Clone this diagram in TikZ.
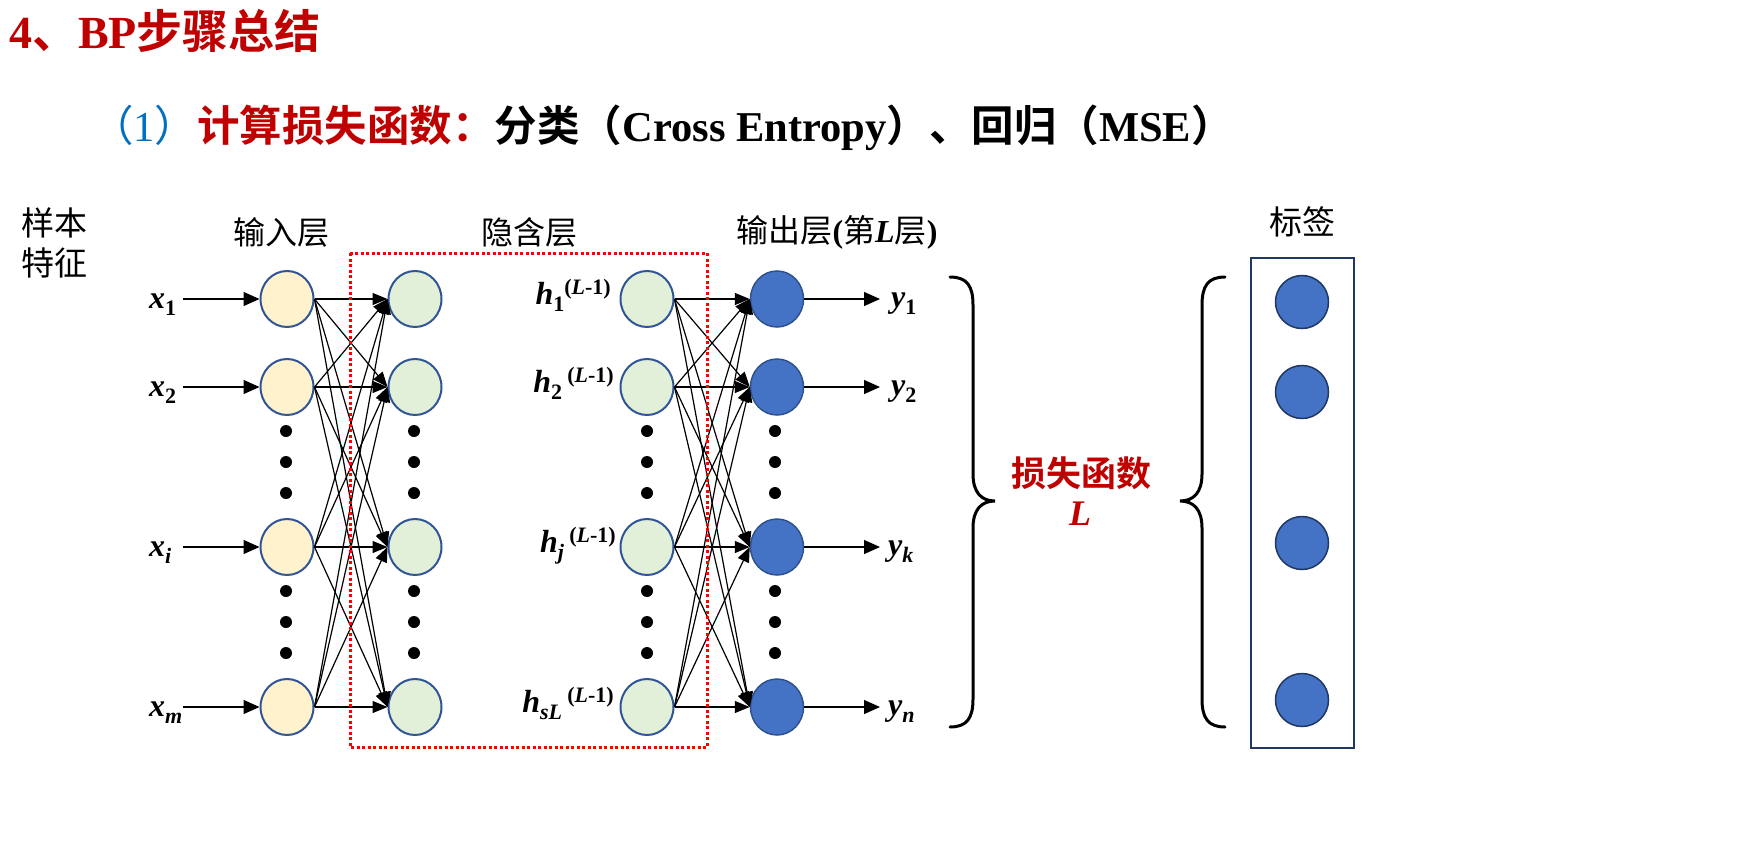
\documentclass[tikz,border=0pt]{standalone}
\usepackage{fontspec}
\setmainfont{Liberation Serif}
\newfontfamily\cjk{Noto Sans CJK SC}[BoldFont=* Bold]
\usetikzlibrary{arrows.meta,shapes.geometric}
\definecolor{titlered}{HTML}{C00000}
\definecolor{subblue}{HTML}{0070C0}
\definecolor{ringblue}{HTML}{2F5597}
\definecolor{inyellow}{HTML}{FFF2CC}
\definecolor{hidgreen}{HTML}{E2F0D9}
\definecolor{outblue}{HTML}{4472C4}
\definecolor{outring}{HTML}{2F528F}
\definecolor{boxnavy}{HTML}{1F3864}
\newcommand{\subs}[1]{\raisebox{-0.23em}{\fontsize{22}{22}\selectfont\bfseries #1}}
\newcommand{\sups}[1]{\raisebox{0.3em}{\fontsize{22}{22}\selectfont\bfseries\upshape #1}}
\begin{document}
\begin{tikzpicture}[x=1pt,y=-1pt,
  neuron/.style={ellipse, minimum width=53pt, minimum height=56pt, inner sep=0pt, line width=2pt, draw=ringblue},
  inneuron/.style={neuron, fill=inyellow},
  hidneuron/.style={neuron, fill=hidgreen},
  outneuron/.style={neuron, fill=outblue, draw=outring, line width=1.5pt},
  labneuron/.style={circle, minimum size=53pt, inner sep=0pt, fill=outblue, draw=boxnavy, line width=1.5pt},
  edge/.style={line width=1.2pt, -{Triangle[length=15pt,width=12pt]}},
  feed/.style={line width=1.3pt, -{Triangle[length=16pt,width=14pt]}},
  varlab/.style={inner sep=0pt, font=\fontsize{32}{36}\selectfont\bfseries\itshape},
  layertitle/.style={inner sep=0pt, font=\cjk\fontsize{32}{36}\selectfont},
  brace/.style={line width=3pt, line cap=round},
  ddot/.style={fill=black},
]
\useasboundingbox (0,0) rectangle (1756,851);

% titles
\node[anchor=west, inner sep=0pt, text=titlered, font=\fontsize{46}{52}\selectfont\bfseries] (title) at (9,31) {4{\cjk 、}BP{\cjk 步骤总结}};
\node[anchor=west, inner sep=0pt, font=\fontsize{42.5}{48}\selectfont] (subtitle) at (91,128) {{\color{subblue}{\cjk （}1{\cjk ）}}{\color{titlered}\cjk\bfseries 计算损失函数：}{\cjk\bfseries 分类（}{\bfseries Cross Entropy}{\cjk\bfseries ）、回归（}{\bfseries MSE}{\cjk\bfseries ）}};

% layer titles
\node[align=center, font=\cjk\fontsize{33}{40}\selectfont, inner sep=0pt] (feat) at (54,243) {样本\\特征};
\node[layertitle] (tin) at (281,232) {输入层};
\node[layertitle] (thid) at (529,232) {隐含层};
\node[layertitle] (tout) at (837,232) {输出层{\rmfamily\bfseries (}第{\rmfamily\bfseries\itshape L}层{\rmfamily\bfseries )}};
\node[layertitle, font=\cjk\fontsize{33}{36}\selectfont] (tlab) at (1302,222) {标签};

% neurons
\foreach \r/\yy in {1/299,2/387,3/547,4/707}{
  \node[inneuron] (in\r) at (287,\yy) {};
  \node[hidneuron] (ha\r) at (415,\yy) {};
  \node[hidneuron] (hb\r) at (647,\yy) {};
  \node[outneuron] (out\r) at (777,\yy) {};
}

% dots
\foreach \xx in {286,414,647,775}{
  \foreach \yy in {431,462,493,591,622,653}{
    \fill[ddot] (\xx,\yy) circle[radius=6pt];
  }
}

% edges
\foreach \i in {1,...,4}{
  \foreach \j in {1,...,4}{
    \draw[edge] (in\i.east) -- (ha\j.west);
    \draw[edge] (hb\i.east) -- (out\j.west);
  }
}

% input labels and arrows
\node[varlab, anchor=base west] (xl1) at (149,308) {x\subs{\upshape 1}};
\node[varlab, anchor=base west] (xl2) at (149,396) {x\subs{\upshape 2}};
\node[varlab, anchor=base west] (xl3) at (149,556) {x\subs{i}};
\node[varlab, anchor=base west] (xl4) at (149,716) {x\subs{m}};
\foreach \r/\yy in {1/299,2/387,3/547,4/707}{
  \coordinate (xs\r) at (183,\yy);
  \draw[feed] (xs\r) -- (in\r.west);
}

% hidden labels
\node[varlab, anchor=base east] (hl1) at (611,304) {h\subs{\upshape 1}\sups{(\textit{L}-1)}};
\node[varlab, anchor=base east] (hl2) at (614,392) {h\subs{\upshape 2}\,\sups{(\textit{L}-1)}};
\node[varlab, anchor=base east] (hl3) at (616,552) {h\subs{j}\,\sups{(\textit{L}-1)}};
\node[varlab, anchor=base east] (hl4) at (614,712) {h\subs{sL}\,\sups{(\textit{L}-1)}};

% output arrows and labels
\foreach \r/\yy in {1/299,2/387,3/547,4/707}{
  \coordinate (ye\r) at (880,\yy);
  \draw[feed] (out\r.east) -- (ye\r);
}
\node[varlab, anchor=base west] (yl1) at (891,307) {y\subs{\upshape 1}};
\node[varlab, anchor=base west] (yl2) at (891,395) {y\subs{\upshape 2}};
\node[varlab, anchor=base west] (yl3) at (888,555) {y\subs{k}};
\node[varlab, anchor=base west] (yl4) at (888,715) {y\subs{n}};

% hidden layer box
\draw[red, line width=3pt, dash pattern=on 3pt off 2.5pt] (350,253) rectangle (707,747);

% braces
\draw[brace] (950,277) .. controls (967,277) and (973,286) .. (973,305) -- (973,474)
  .. controls (973,492) and (981,501) .. (995,501)
  .. controls (981,501) and (973,510) .. (973,528) -- (973,699)
  .. controls (973,718) and (967,727) .. (950,727);
\draw[brace] (1225,277) .. controls (1208,277) and (1202,286) .. (1202,305) -- (1202,474)
  .. controls (1202,492) and (1194,501) .. (1180,501)
  .. controls (1194,501) and (1202,510) .. (1202,528) -- (1202,699)
  .. controls (1202,718) and (1208,727) .. (1225,727);

% loss text
\node[inner sep=0pt, text=titlered, font=\cjk\bfseries\fontsize{35}{40}\selectfont] (loss) at (1081,473) {损失函数};
\node[inner sep=0pt, text=titlered, font=\fontsize{36}{40}\selectfont\bfseries\itshape] (lossL) at (1080,514) {L};

% label box
\draw[boxnavy, line width=2.5pt] (1251,258) rectangle (1354,748);
\node[labneuron] (lab1) at (1302,302) {};
\node[labneuron] (lab2) at (1302,392) {};
\node[labneuron] (lab3) at (1302,543) {};
\node[labneuron] (lab4) at (1302,700) {};
\end{tikzpicture}
\end{document}
